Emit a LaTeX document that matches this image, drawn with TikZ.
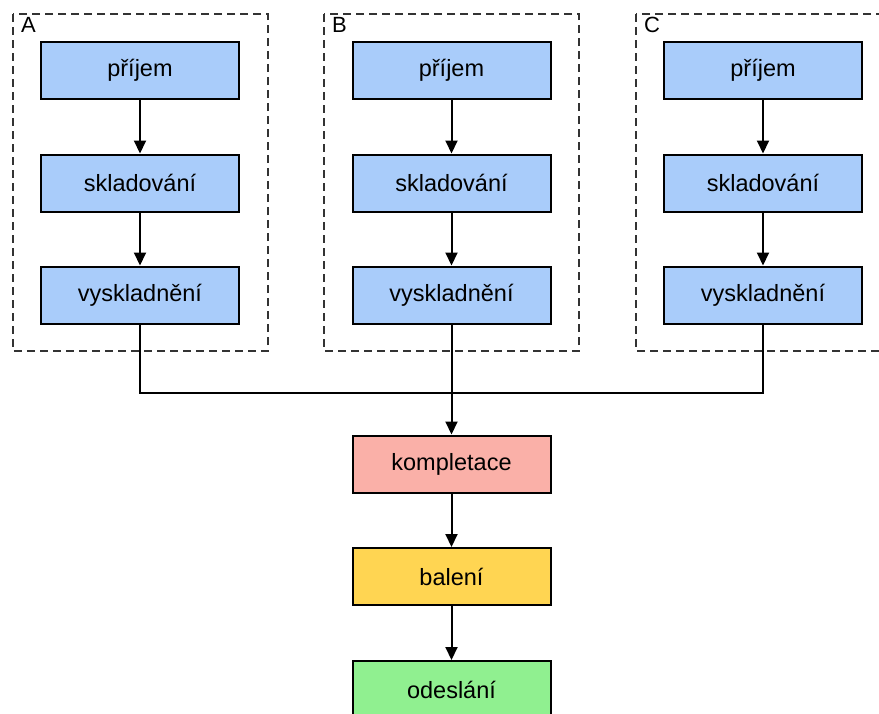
\documentclass[tikz,border=0pt]{standalone}
\usepackage{fontspec}
\setmainfont{Liberation Sans}
\usetikzlibrary{arrows.meta}
\definecolor{stageblue}{RGB}{169,204,250}
\definecolor{stagered}{RGB}{250,176,168}
\definecolor{stageyellow}{RGB}{255,213,82}
\definecolor{stagegreen}{RGB}{144,240,144}
\tikzset{
  stagebox/.style={draw=black, line width=2pt, minimum width=198pt, minimum height=57pt,
    inner sep=0pt, font=\fontsize{23.5}{28}\selectfont},
  groupframe/.style={draw=black!80, line width=1.3pt, dash pattern=on 8pt off 5pt},
  grouplabel/.style={anchor=north west, inner sep=0pt, font=\fontsize{22}{26}\selectfont},
  flow/.style={line width=2pt, -{Triangle[length=13pt,width=12pt]}},
  joinline/.style={line width=2pt}
}
\begin{document}
\begin{tikzpicture}[x=1pt,y=-1pt]
\useasboundingbox (0,0) rectangle (879,713);

% warehouse groups with dashed frames
\foreach \g/\cx/\fl in {A/140/13, B/451.5/324, C/763/636}{
  \draw[groupframe] (\fl,14) rectangle (\fl+255,351);
  \node[grouplabel] (lab\g) at (\fl+8,17) {\g};
  \node[stagebox, fill=stageblue] (in\g)   at (\cx,70)  {příjem};
  \node[stagebox, fill=stageblue] (st\g)   at (\cx,183) {skladování};
  \node[stagebox, fill=stageblue] (out\g)  at (\cx,295) {vyskladnění};
  \draw[flow] (in\g) -- (st\g);
  \draw[flow] (st\g) -- (out\g);
}

% shared stages
\node[stagebox, fill=stagered]    (komp) at (451.5,464)   {kompletace};
\node[stagebox, fill=stageyellow] (bal)  at (451.5,576.5) {balení};
\node[stagebox, fill=stagegreen]  (ode)  at (451.5,689.5) {odeslání};

% merge of the three outputs
\coordinate (merge) at (451.5,393);
\draw[joinline] (outA.south) |- (merge);
\draw[joinline] (outC.south) |- (merge);
\draw[flow] (outB.south) -- (komp.north);
\draw[flow] (komp) -- (bal);
\draw[flow] (bal) -- (ode);
\end{tikzpicture}
\end{document}
